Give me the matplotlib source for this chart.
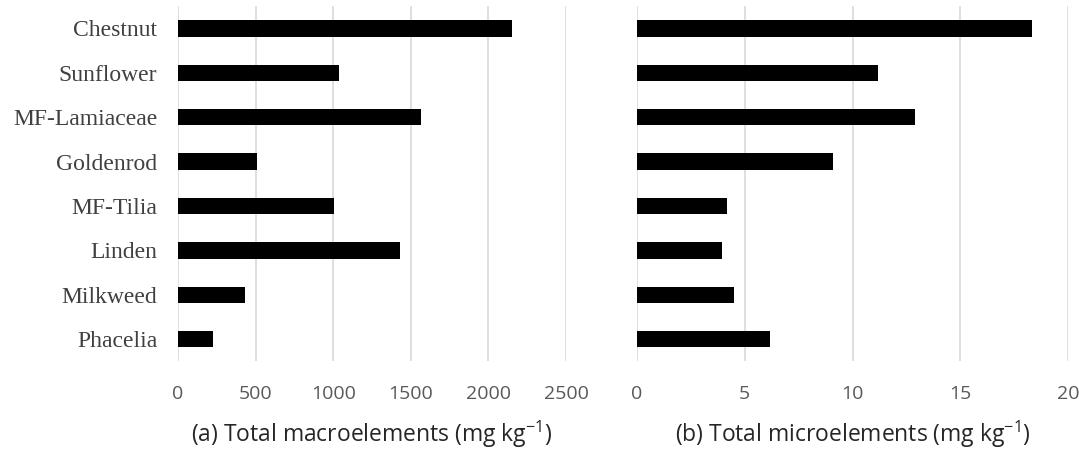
import matplotlib
matplotlib.use("Agg")
import matplotlib.pyplot as plt
import numpy as np

categories = ["Chestnut", "Sunflower", "MF-Lamiaceae", "Goldenrod",
              "MF-Tilia", "Linden", "Milkweed", "Phacelia"]
macro = [2152, 1038, 1568, 510, 1008, 1432, 434, 227]
micro = [18.33, 11.19, 12.88, 9.09, 4.16, 3.96, 4.49, 6.18]
macro_ticks = [0, 500, 1000, 1500, 2000, 2500]
micro_ticks = [0, 5, 10, 15, 20]
macro_label = "(a) Total macroelements (mg kg$^{\\mathregular{-1}}$)"
micro_label = "(b) Total microelements (mg kg$^{\\mathregular{-1}}$)"

fig = plt.figure(figsize=(10.79, 4.5), dpi=100)
ax1 = fig.add_axes([0.165, 0.1967, 0.3596, 0.7897])
ax2 = fig.add_axes([0.5904, 0.1967, 0.3994, 0.7897])

n = len(categories)
ypos = np.arange(n)[::-1]
tick_font = dict(family="Open Sans", size=14, color="#595959")

for ax, vals, ticks, lab in [(ax1, macro, macro_ticks, macro_label),
                             (ax2, micro, micro_ticks, micro_label)]:
    ax.barh(ypos, vals, height=0.37, color="black", zorder=3)
    ax.set_xlim(ticks[0], ticks[-1])
    ax.set_ylim(-0.5, n - 0.5)
    ax.set_xticks(ticks)
    ax.set_xticklabels([str(t) for t in ticks], **tick_font)
    ax.grid(axis="x", color="#d9d9d9", linewidth=1.2, zorder=0)
    ax.set_axisbelow(True)
    for s in ax.spines.values():
        s.set_visible(False)
    ax.tick_params(axis="both", length=0)
    ax.tick_params(axis="x", pad=17)
    ax.set_xlabel(lab, family="Open Sans", fontsize=16.5, color="#262626", labelpad=11)

ax1.set_yticks(ypos)
ax1.set_yticklabels(categories, family="Liberation Serif", fontsize=17, color="#404040")
ax1.tick_params(axis="y", pad=15)
ax2.set_yticks(ypos)
ax2.set_yticklabels([])

fig.savefig("out.png", dpi=100)
